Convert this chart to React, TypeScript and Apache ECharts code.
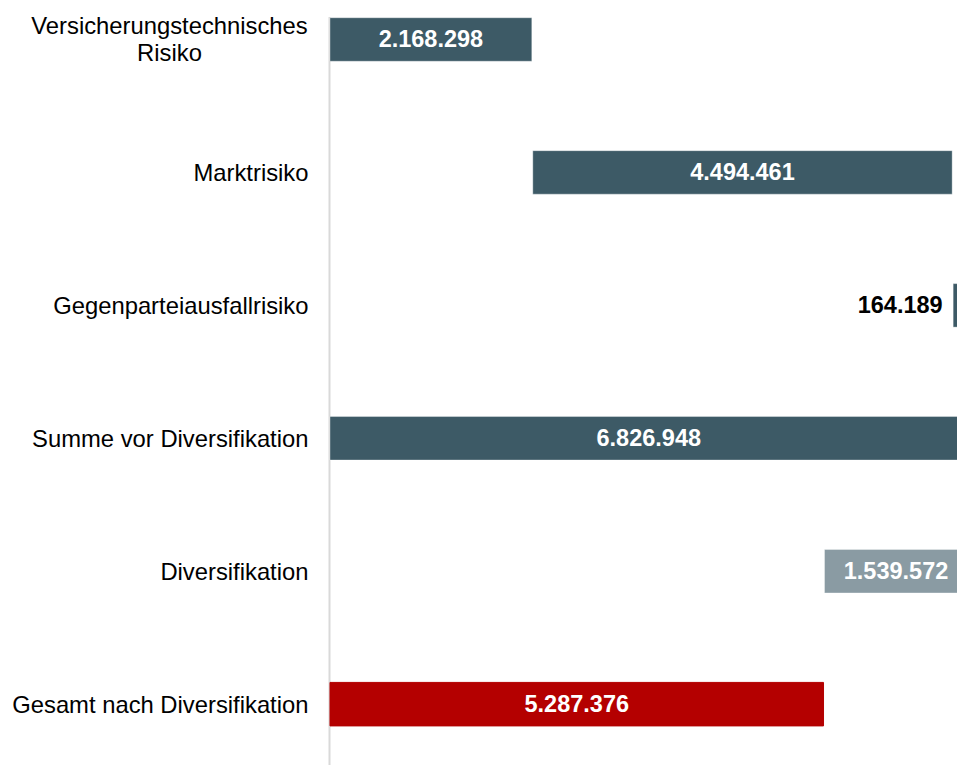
import React, { useEffect, useRef } from "react";
import * as echarts from "echarts";

const categories = [
  "Versicherungstechnisches\nRisiko",
  "Marktrisiko",
  "Gegenparteiausfallrisiko",
  "Summe vor Diversifikation",
  "Diversifikation",
  "Gesamt nach Diversifikation",
];
const values = [2168298, 4494461, 164189, 6826948, 1539572, 5287376];
// step = adds to running total, total = full bar from zero, minus = subtracted from running total
const kinds = ["step", "step", "step", "total", "minus", "total"];
const barColors = ["#3d5a66", "#3d5a66", "#3d5a66", "#3d5a66", "#8a9ba3", "#b40000"];
const labelOutside = [false, false, true, false, false, false];

function fmt(v: number): string {
  return String(Math.round(v)).replace(/\B(?=(\d{3})+(?!\d))/g, ".");
}

export default function App() {
  const ref = useRef<HTMLDivElement>(null);
  useEffect(() => {
    document.body.style.margin = "0";
    if (!ref.current) return;
    const chart = echarts.init(ref.current, undefined, { renderer: "svg" });

    let running = 0;
    const bases: number[] = [];
    kinds.forEach((k, i) => {
      if (k === "step") {
        bases.push(running);
        running += values[i];
      } else if (k === "total") {
        bases.push(0);
        running = values[i];
      } else {
        running -= values[i];
        bases.push(running);
      }
    });

    const catData = categories.map((c) =>
      c.indexOf("\n") >= 0
        ? { value: c, textStyle: { align: "center", padding: [0, 278, 0, 0] } }
        : c
    );

    chart.setOption({
      animation: false,
      backgroundColor: "#ffffff",
      grid: { left: 329.5, right: 15.8, top: 13.03, bottom: 9.37, containLabel: false },
      xAxis: {
        type: "value",
        min: 0,
        max: 7000000,
        show: false,
        splitLine: { show: false },
      },
      yAxis: {
        type: "category",
        inverse: true,
        data: catData,
        axisLine: { show: false },
        axisTick: { show: false },
        axisLabel: {
          margin: 21,
          color: "#000000",
          fontFamily: "Liberation Sans, Arial, sans-serif",
          fontSize: 23.8,
          lineHeight: 27,
          align: "right",
        },
      },
      graphic: [
        {
          type: "line",
          shape: { x1: 329.5, y1: 57, x2: 329.5, y2: 820 },
          style: { stroke: "#d9d9d9", lineWidth: 2 },
          z: 0,
        },
      ],
      series: [
        {
          type: "bar",
          stack: "wf",
          barWidth: 44.5,
          silent: true,
          itemStyle: { color: "transparent" },
          data: bases,
        },
        {
          type: "bar",
          stack: "wf",
          barWidth: 44.5,
          data: values.map((v, i) => ({
            value: v,
            itemStyle: {
              color: barColors[i],
              borderColor: i === 5 ? barColors[i] : "rgba(255,255,255,0.35)",
              borderWidth: 1,
            },
            label: {
              show: true,
              position: labelOutside[i] ? "left" : "inside",
              distance: 10,
              color: labelOutside[i] ? "#000000" : "#ffffff",
              fontWeight: "bold",
              fontSize: 23.5,
              fontFamily: "Liberation Sans, Arial, sans-serif",
              formatter: () => fmt(v),
            },
          })),
        },
      ],
    });
    return () => chart.dispose();
  }, []);

  return (
    <div style={{ position: "relative", width: 957, height: 765, overflow: "hidden", background: "#fff" }}>
      <div ref={ref} style={{ position: "absolute", left: 0, top: -40, width: 1000, height: 820 }} />
    </div>
  );
}
